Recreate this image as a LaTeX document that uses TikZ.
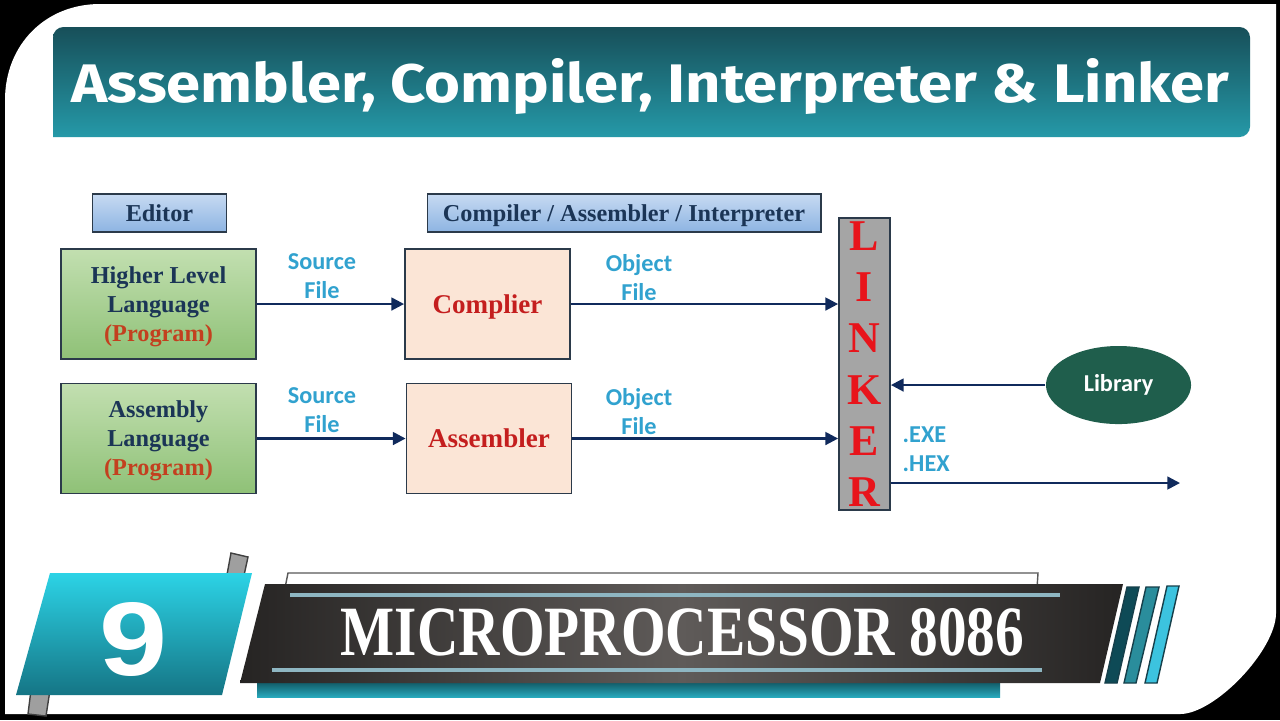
\documentclass[tikz,border=0pt]{standalone}
\usepackage{fontspec}
\usepackage{graphicx}
\setmainfont{Liberation Serif}
\newfontfamily\calfont{Carlito}
\newfontfamily\titlefont{Fira Sans}
\newfontfamily\arialfont{Liberation Sans}
\usetikzlibrary{arrows.meta,shapes.geometric}
\definecolor{labelBlue}{HTML}{31A2CF}
\definecolor{navyText}{HTML}{1B3556}
\definecolor{progRed}{HTML}{C3401F}
\definecolor{compRed}{HTML}{C41E1E}
\definecolor{linkRed}{HTML}{E8141B}
\definecolor{libGreen}{HTML}{1F5E4C}
\definecolor{linkGray}{HTML}{A5A5A5}
\definecolor{peach}{HTML}{FBE5D6}
\definecolor{greenTop}{HTML}{C2DFB0}
\definecolor{greenBot}{HTML}{8FC177}
\definecolor{blueTop}{HTML}{C7DAF2}
\definecolor{blueBot}{HTML}{8DB4E2}
\definecolor{boxBorder}{HTML}{2B3A4A}
\definecolor{arrowNavy}{HTML}{102A5C}
\definecolor{titleTop}{HTML}{174F59}
\definecolor{titleBot}{HTML}{2599A8}
\definecolor{nineTop}{HTML}{2CD3E6}
\definecolor{nineBot}{HTML}{157585}
\definecolor{bannerDark}{HTML}{262423}
\definecolor{bannerMid}{HTML}{5F5B59}
\definecolor{tealBarTop}{HTML}{0E4F5A}
\definecolor{tealBarBot}{HTML}{28A9BC}
\definecolor{lineBlue}{HTML}{8EB6C2}
\definecolor{barA}{HTML}{0E4A56}
\definecolor{barB}{HTML}{2A8D9C}
\definecolor{barC}{HTML}{3CC3DF}
\definecolor{barEdge}{HTML}{163F4A}
\tikzset{
  hdrbox/.style={draw=boxBorder, line width=0.5pt, top color=blueTop, bottom color=blueBot,
    inner sep=0pt, text depth=0pt, text=navyText, font=\fontsize{6.9pt}{8.25pt}\selectfont\bfseries},
  srcbox/.style={draw=boxBorder, line width=0.5pt, top color=greenTop, bottom color=greenBot,
    inner sep=0pt, text depth=0pt, align=center, text=navyText, minimum width=1.95cm, minimum height=1.10cm,
    font=\fontsize{6.9pt}{8.25pt}\selectfont\bfseries},
  procbox/.style={draw=boxBorder, line width=0.5pt, fill=peach, inner sep=0pt, text depth=0pt, text=compRed,
    minimum width=1.65cm, minimum height=1.10cm, font=\fontsize{7.7pt}{9pt}\selectfont\bfseries},
  lbl/.style={text=labelBlue, align=center, inner sep=0pt, font=\fontsize{6.9pt}{8.25pt}\calfont\bfseries},
  arr/.style={draw=arrowNavy, line width=0.7pt, -{Triangle[length=3.6pt,width=3.6pt]}},
  bar/.style={draw=barEdge, line width=0.4pt}
}
\begin{document}
\begin{tikzpicture}[x=0.01cm, y=-0.01cm]
\useasboundingbox (0,0) rectangle (1280,720);
% frame
\fill[black] (0,0) rectangle (1280,720);
\fill[white] (5,714) -- (5,100) .. controls (5,45) and (45,4) .. (100,4) -- (1276,4) -- (1276,613)
  .. controls (1276,650) and (1215,714) .. (1180,714) -- cycle;
% title banner
\shade[top color=titleTop, bottom color=titleBot] (53,137) [rounded corners=3pt] -- (53,27) -- (1250,27) -- (1250,137) [sharp corners] -- cycle;
\node[anchor=base, text=white, inner sep=0pt] (title) at (650.5,102)
  {\resizebox{11.57cm}{0.44cm}{\titlefont\bfseries Assembler, Compiler, Interpreter \& Linker}};
% header boxes
\node[hdrbox, minimum width=1.34cm, minimum height=0.38cm] (editor) at (159.5,213) {Editor};
\node[hdrbox, minimum width=3.93cm, minimum height=0.38cm] (cai) at (624,213) {Compiler / Assembler / Interpreter};
% source boxes
\node[srcbox] (hll) at (158.5,304) {Higher Level\\Language\\\textcolor{progRed}{(Program)}};
\node[srcbox] (asl) at (158.5,438.5) {Assembly\\Language\\\textcolor{progRed}{(Program)}};
% processors
\node[procbox] (comp) at (487.5,304) {Complier};
\node[procbox] (asm) at (489,438.5) {Assembler};
% linker
\node[draw=boxBorder, line width=0.5pt, fill=linkGray, minimum width=0.51cm, minimum height=2.92cm,
  inner sep=0pt, align=center, text=linkRed, font=\fontsize{12.5pt}{14.6pt}\selectfont\bfseries]
  (linker) at (864.5,364) {L\\I\\N\\K\\E\\R};
% library
\node[ellipse, fill=libGreen, minimum width=1.45cm, minimum height=0.78cm, inner sep=0pt,
  text=white, font=\fontsize{6.9pt}{8pt}\calfont\bfseries] (lib) at (1118.5,385) {Library};
\coordinate (out) at (1180,483);
% labels
\node[lbl] (src1) at (322,276) {Source\\File};
\node[lbl] (src2) at (322,410) {Source\\File};
\node[lbl] (obj1) at (639,278) {Object\\File};
\node[lbl] (obj2) at (639,412) {Object\\File};
\node[lbl, anchor=west, align=left] (ext) at (902,449) {.EXE\\.HEX};
% connectors
\draw[arr] (hll.east) -- (comp.west);
\draw[arr] (asl.east) -- (asm.west);
\draw[arr] (comp.east) -- (comp.east -| linker.west);
\draw[arr] (asm.east) -- (asm.east -| linker.west);
\draw[arr] (lib.west) -- (lib.west -| linker.east);
\draw[arr] (linker.east |- out) -- (out);
% bottom: tabs behind the 9 block
\filldraw[fill=gray!75, draw=black!75, line width=0.4pt] (231,553) -- (248,557) -- (243,580) -- (226,580) -- cycle;
\filldraw[fill=gray!75, draw=black!75, line width=0.4pt] (31,690) -- (50,690) -- (46,716) -- (28,714) -- cycle;
\shade[top color=nineTop, bottom color=nineBot] (50,573) -- (252,573) -- (222,695) -- (16,695) -- cycle;
\node[text=white, inner sep=0pt] (nine) at (134,639) {\resizebox{0.68cm}{0.73cm}{\arialfont\bfseries 9}};
% outline behind banner
\draw[black!65, line width=0.4pt] (285,588) -- (288,573) -- (1038,573) -- (1037,588);
% teal bar under banner
\shade[top color=tealBarTop, bottom color=tealBarBot] (257,680) -- (1000,680) -- (1000,697) -- (257,697) -- cycle;
% dark banner
\shade[left color=bannerDark, right color=bannerDark, middle color=bannerMid] (265,584) -- (1123,584) -- (1100,683) -- (240,683) -- cycle;
\draw[lineBlue, line width=1.1pt] (290,595) -- (1060,595);
\draw[lineBlue, line width=1.1pt] (272,670) -- (1042,670);
\node[anchor=base, text=white, inner sep=0pt] (mp) at (682.5,655)
  {\resizebox{6.83cm}{0.47cm}{\bfseries MICROPROCESSOR 8086}};
% three bars
\filldraw[bar, fill=barA] (1127,587) -- (1139,587) -- (1117,683) -- (1105,683) -- cycle;
\filldraw[bar, fill=barB] (1146,587) -- (1159,587) -- (1136,683) -- (1124,683) -- cycle;
\filldraw[bar, fill=barC] (1167,586) -- (1179,586) -- (1157,683) -- (1145,683) -- cycle;
\end{tikzpicture}
\end{document}
